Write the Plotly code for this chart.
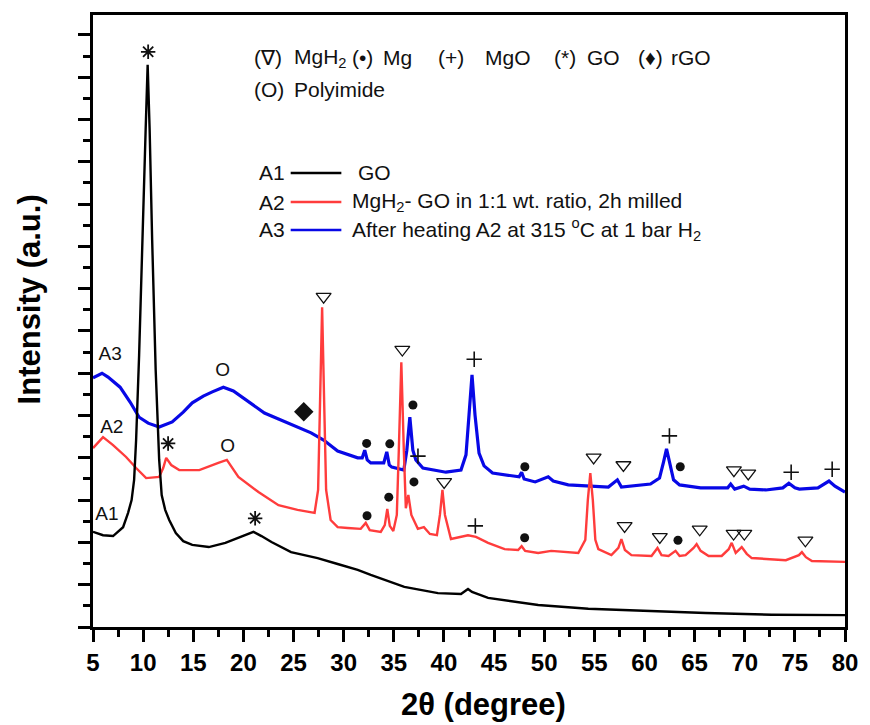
import plotly.graph_objects as go

# ---------------- XRD patterns (2theta in degree, intensity in a.u.) ----------------
# A1: GO
a1_theta = [5.0, 6.0, 7.0, 8.0, 8.5, 8.85, 9.1, 9.3, 9.6, 9.97, 10.25, 10.45, 10.65, 10.9,
            11.25, 11.6, 11.85, 12.2, 12.6, 13.26, 14.0, 14.9, 16.55, 18.2, 20.2, 21.0, 21.8,
            22.8, 24.75, 27.4, 29.4, 31.4, 32.7, 36.05, 39.4, 41.7, 42.4, 42.8, 44.4, 49.4,
            54.4, 59.4, 66.1, 72.7, 80.0]
a1_int = [225, 217, 215, 236, 270, 300, 348, 442, 643, 915, 1175, 1329, 1175, 915,
          608, 395, 312, 277, 253, 222, 203, 194, 189, 199, 217, 225, 215,
          201, 177, 163, 149, 135, 123, 95, 80, 78, 90, 83, 69, 52,
          43, 38, 33, 29, 28]

# A2: MgH2 - GO (1:1), 2 h milled
a2_theta = [5.0, 6.0, 7.0, 8.3, 9.3, 10.3, 11.6, 12.0, 12.3, 12.8, 13.6, 15.6, 17.5, 18.35,
            19.5, 20.2, 21.5, 23.5, 25.4, 27.1, 27.45, 27.65, 27.85, 28.05, 28.25, 28.7, 29.4,
            30.4, 31.7, 32.2, 32.6, 33.7, 34.1, 34.35, 34.6, 34.95, 35.3, 35.5, 35.75, 36.0,
            36.2, 36.45, 36.75, 37.4, 38.0, 38.6, 39.3, 39.6, 39.85, 40.1, 40.7, 42.4, 43.2,
            44.4, 46.05, 47.4, 47.75, 48.1, 49.4, 50.7, 53.4, 54.1, 54.35, 54.6, 54.85, 55.1,
            55.4, 56.7, 57.4, 57.7, 58.05, 58.7, 60.7, 61.3, 61.7, 62.4, 63.1, 63.5, 64.1,
            64.9, 65.2, 65.6, 66.4, 67.7, 68.4, 68.7, 69.1, 69.7, 70.2, 70.7, 74.1, 75.4,
            75.7, 76.1, 76.7, 80.0]
a2_int = [423, 449, 430, 402, 376, 352, 355, 376, 400, 383, 371, 371, 388, 395,
          355, 343, 319, 288, 277, 270, 324, 537, 756, 537, 324, 253, 236,
          234, 232, 246, 229, 225, 241, 279, 239, 227, 265, 418, 626, 418,
          281, 312, 265, 232, 236, 220, 217, 265, 324, 265, 208, 217, 213,
          199, 184, 182, 191, 180, 175, 180, 175, 206, 300, 364, 300, 206,
          184, 170, 187, 208, 182, 170, 168, 187, 170, 168, 180, 168, 170,
          187, 196, 180, 168, 168, 184, 199, 175, 189, 173, 163, 158, 170,
          177, 165, 156, 154]

# A3: A2 after heating at 315 C under 1 bar H2
a3_theta = [5.0, 5.9, 6.5, 7.7, 8.7, 9.6, 10.5, 11.6, 12.9, 14.0, 14.9, 16.0, 16.9, 18.0,
            19.0, 20.2, 22.1, 23.5, 24.8, 26.75, 28.0, 29.4, 31.4, 31.85, 32.1, 32.35, 32.7,
            34.0, 34.3, 34.55, 34.8, 36.0, 36.3, 36.6, 36.9, 37.2, 37.9, 40.2, 41.7, 42.2,
            42.5, 42.8, 43.1, 43.5, 44.0, 44.85, 47.5, 47.75, 48.0, 49.1, 50.4, 50.9, 52.4,
            56.4, 57.3, 57.7, 60.6, 61.5, 61.9, 62.2, 62.5, 62.9, 63.5, 65.6, 68.3, 68.6,
            69.0, 69.9, 70.5, 72.1, 73.8, 74.4, 75.0, 75.45, 77.3, 78.4, 79.0, 80.0]
a3_int = [589, 600, 591, 567, 532, 496, 482, 473, 485, 508, 530, 546, 556, 567,
          558, 537, 506, 492, 478, 459, 442, 416, 400, 400, 418, 395, 388,
          388, 414, 383, 378, 371, 418, 496, 418, 395, 376, 366, 371, 407,
          501, 596, 501, 411, 381, 364, 355, 366, 350, 343, 355, 345, 336,
          331, 348, 331, 338, 352, 390, 421, 390, 348, 336, 329, 329, 338,
          326, 333, 326, 324, 329, 340, 329, 326, 329, 345, 333, 319]

# ---------------- phase identification marks (2theta, intensity) ----------------
mgh2_theta = [28.0, 35.85, 40.02, 54.93, 58.02, 61.53, 65.51, 68.89, 69.96, 76.05,
              57.9, 68.92, 70.35]
mgh2_int = [781, 656, 343, 401, 239, 213, 231, 221, 221, 205,
            383, 371, 363]
mg_theta = [32.29, 34.60, 36.91, 48.07, 63.57, 32.33, 34.50, 37.01, 48.05, 63.34]
mg_int = [434, 433, 525, 379, 379, 263, 307, 343, 211, 205]
mgo_theta = [43.02, 37.41, 62.49, 74.63, 78.72, 43.13]
mgo_int = [633, 404, 452, 366, 373, 239]
go_theta = [10.50, 12.49, 21.17]
go_int = [1360, 434, 257]
rgo_theta = [26.02]
rgo_int = [509]
pi_theta = [17.93, 18.43]
pi_int = [604, 426]

# curve labels
curve_names = ["A1", "A2", "A3"]
curve_label_theta = [6.39, 6.87, 6.71]
curve_label_int = [265, 470, 643]
curve_desc = ["GO",
              "MgH<sub>2</sub>- GO in 1:1 wt. ratio, 2h milled",
              "After heating A2 at 315 <sup>o</sup>C at 1 bar H<sub>2</sub>"]
curve_colors = ["#000000", "#ff3c3c", "#0808e6"]

FONT = "Arial, Liberation Sans, sans-serif"
INK = "#111111"

fig = go.Figure()

# draw order: A3 under A2 under A1
fig.add_trace(go.Scatter(x=a3_theta, y=a3_int, mode="lines",
                         line=dict(color=curve_colors[2], width=3.2), showlegend=False))
fig.add_trace(go.Scatter(x=a2_theta, y=a2_int, mode="lines",
                         line=dict(color=curve_colors[1], width=2.4), showlegend=False))
fig.add_trace(go.Scatter(x=a1_theta, y=a1_int, mode="lines",
                         line=dict(color=curve_colors[0], width=2.4), showlegend=False))

fig.add_trace(go.Scatter(x=mgh2_theta, y=mgh2_int, mode="markers", showlegend=False,
                         marker=dict(symbol="triangle-down-open", size=13, color=INK,
                                     line=dict(width=1.3, color=INK))))
fig.add_trace(go.Scatter(x=mg_theta, y=mg_int, mode="markers", showlegend=False,
                         marker=dict(symbol="circle", size=9, color=INK)))
fig.add_trace(go.Scatter(x=mgo_theta, y=mgo_int, mode="markers", showlegend=False,
                         marker=dict(symbol="cross-thin-open", size=11, color=INK,
                                     line=dict(width=1.6, color=INK))))
fig.add_trace(go.Scatter(x=go_theta, y=go_int, mode="markers", showlegend=False,
                         marker=dict(symbol="asterisk-open", size=12, color=INK,
                                     line=dict(width=1.8, color=INK))))
fig.add_trace(go.Scatter(x=rgo_theta, y=rgo_int, mode="markers", showlegend=False,
                         marker=dict(symbol="diamond", size=15, color=INK)))
fig.add_trace(go.Scatter(x=pi_theta, y=pi_int, mode="text", text=["O"] * len(pi_theta),
                         textfont=dict(family=FONT, size=19, color=INK), showlegend=False))
fig.add_trace(go.Scatter(x=curve_label_theta, y=curve_label_int, mode="text",
                         text=curve_names, textfont=dict(family=FONT, size=19, color=INK),
                         showlegend=False))

# plot area in pixels (for placing the key texts)
L, R, T, B = 93, 850, 15, 627
W, H = R - L, B - T


def px(xp):
    return (xp - L) / W


def py(yp):
    return (B - yp) / H


KEY_SIZE = 21
ann = []
# phase key, first row
key_items = [("(∇)", 253), ("MgH<sub>2</sub>", 293), ("(•)", 352), ("Mg", 383),
             ("(+)", 438), ("MgO", 486), ("(*)", 555), ("GO", 588),
             ("(♦)", 640), ("rGO", 673)]
for txt, x0 in key_items:
    ann.append(dict(text=txt, x=px(x0), y=py(58), xref="paper", yref="paper",
                    xanchor="left", yanchor="middle", showarrow=False,
                    font=dict(family=FONT, size=KEY_SIZE, color=INK)))
ann.append(dict(text="(O)", x=px(253), y=py(89), xref="paper", yref="paper",
                xanchor="left", yanchor="middle", showarrow=False,
                font=dict(family=FONT, size=KEY_SIZE, color=INK)))
ann.append(dict(text="Polyimide", x=px(293), y=py(89), xref="paper", yref="paper",
                xanchor="left", yanchor="middle", showarrow=False,
                font=dict(family=FONT, size=KEY_SIZE, color=INK)))

# sample key
shapes = []
key_rows = [173, 202, 230]
for i, yk in enumerate(key_rows):
    ann.append(dict(text=curve_names[i], x=px(258), y=py(yk), xref="paper", yref="paper",
                    xanchor="left", yanchor="middle", showarrow=False,
                    font=dict(family=FONT, size=KEY_SIZE, color=INK)))
    ann.append(dict(text=curve_desc[i], x=px(358 if i == 0 else 352), y=py(yk),
                    xref="paper", yref="paper", xanchor="left", yanchor="middle",
                    showarrow=False, font=dict(family=FONT, size=KEY_SIZE, color=INK)))
    shapes.append(dict(type="line", xref="paper", yref="paper",
                       x0=px(292), x1=px(343), y0=py(yk), y1=py(yk),
                       line=dict(color=curve_colors[i], width=2.5)))

# axis titles
ann.append(dict(text="<b>Intensity (a.u.)</b>", x=px(29), y=py(299), xref="paper",
                yref="paper", textangle=-90, showarrow=False, xanchor="center",
                yanchor="middle", font=dict(family=FONT, size=31, color="#000")))
ann.append(dict(text="<b>2θ (degree)</b>", x=px(486), y=py(704), xref="paper",
                yref="paper", showarrow=False, xanchor="center", yanchor="middle",
                font=dict(family=FONT, size=31, color="#000")))

axis_common = dict(showline=True, linewidth=2.5, linecolor="#000", mirror=True,
                   ticks="outside", tickwidth=2.5, tickcolor="#000", showgrid=False,
                   zeroline=False)

fig.update_layout(
    width=870, height=725,
    margin=dict(l=L, r=870 - R, t=T, b=725 - B),
    paper_bgcolor="white", plot_bgcolor="white",
    xaxis=dict(range=[5, 80], tick0=5, dtick=5, ticklen=12,
               minor=dict(dtick=2.5, tick0=5, ticklen=7, tickwidth=2.5, ticks="outside",
                          tickcolor="#000"),
               tickfont=dict(family=FONT, size=24, color="#000", weight="bold"),
               **axis_common),
    yaxis=dict(range=[0, 1447], tick0=0, dtick=100, ticklen=12, showticklabels=False,
               minor=dict(dtick=50, tick0=0, ticklen=7, tickwidth=2.5, ticks="outside",
                          tickcolor="#000"),
               **axis_common),
    annotations=ann,
    shapes=shapes,
)

fig.write_html("out.html")
